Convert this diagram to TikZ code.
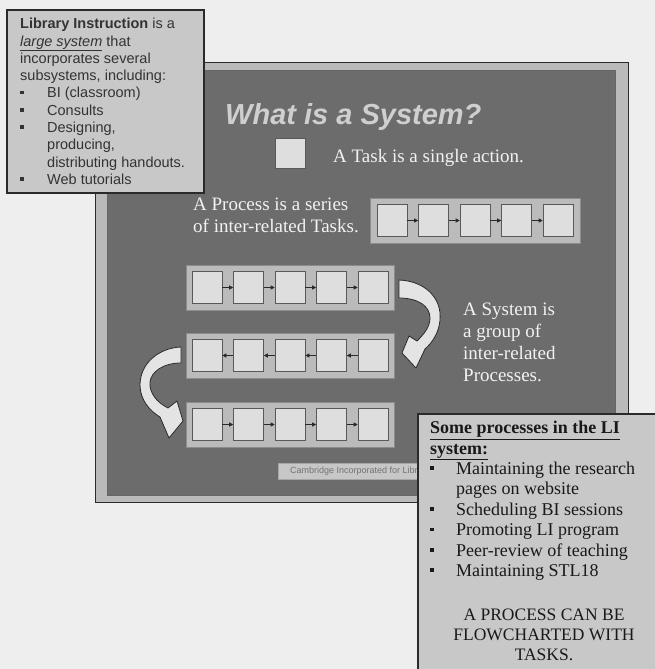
\documentclass[tikz,border=0pt]{standalone}
\usepackage{fontspec}
\setmainfont{Liberation Serif}
\setsansfont{Liberation Sans}
\usetikzlibrary{arrows.meta}
\definecolor{bgc}{HTML}{EEEEEE}
\definecolor{framec}{HTML}{BABABA}
\definecolor{slidec}{HTML}{6C6C6C}
\definecolor{darkc}{HTML}{2A2A2A}
\definecolor{chainc}{HTML}{BBBBBB}
\definecolor{taskc}{HTML}{DEDEDE}
\definecolor{titlec}{HTML}{CFCFCF}
\definecolor{slidetext}{HTML}{F2F2F2}
\definecolor{boxc}{HTML}{C8C8C8}
\definecolor{curvec}{HTML}{E4E4E4}
\newcommand\sqb{\raisebox{0.25em}{\rule{3.5pt}{3.5pt}}}
\begin{document}
\begin{tikzpicture}[x=1pt,y=-1pt,
  chainbox/.style={draw=black!45, fill=chainc, line width=0.8pt, minimum height=45pt, inner sep=0pt},
  taskbox/.style={draw=black!65, fill=taskc, line width=0.6pt, minimum width=30pt, minimum height=32pt, inner sep=0pt},
  flow/.style={draw=darkc, line width=0.6pt, -{Triangle[length=4pt,width=4pt]}},
  slidetxt/.style={text=slidetext, font=\rmfamily\fontsize{19}{21.5}\selectfont, align=left, inner sep=0pt},
  curvearrow/.style={fill=curvec, draw=darkc, line width=0.8pt, line join=round},
  infobox/.style={fill=boxc, draw=darkc, line width=1.1pt}]
\useasboundingbox (0,0) rectangle (655,669);
\fill[bgc] (0,0) rectangle (655,669);
% slide frame
\filldraw[fill=framec, draw=darkc, line width=0.8pt] (95,62) rectangle (628,502);
\filldraw[fill=slidec, draw=black!60, line width=0.6pt] (107,70) rectangle (615,495);
% title
\node[font=\sffamily\bfseries\itshape\fontsize{29}{34}\selectfont, text=titlec, anchor=base west, inner sep=0pt] (title) at (225,124) {What is a System?};
% single task
\node[taskbox, minimum height=30pt] (task) at (290,153) {};
\node[slidetxt, anchor=base west] (tasktxt) at (333,162) {A Task is a single action.};
% process text
\node[slidetxt, anchor=north west] (proctxt) at (193,198) {A Process is a series\\of inter-related Tasks.};
% top process chain
\node[chainbox, minimum width=210pt] (p0) at (475,220.5) {};
\foreach \i in {1,...,5} \node[taskbox] (a\i) at ({392+(\i-1)*41.5},220.5) {};
\foreach \i/\j in {1/2,2/3,3/4,4/5} \draw[flow] (a\i) -- (a\j);
% row 1
\node[chainbox, minimum width=208pt] (r1) at (290,287.5) {};
\foreach \i in {1,...,5} \node[taskbox] (b\i) at ({207+(\i-1)*41.5},287.5) {};
\foreach \i/\j in {1/2,2/3,3/4,4/5} \draw[flow] (b\i) -- (b\j);
% row 2
\node[chainbox, minimum width=208pt] (r2) at (290,355.5) {};
\foreach \i in {1,...,5} \node[taskbox] (c\i) at ({207+(\i-1)*41.5},355.5) {};
\foreach \i/\j in {1/2,2/3,3/4,4/5} \draw[flow] (c\j) -- (c\i);
% row 3
\node[chainbox, minimum width=208pt] (r3) at (290,424.5) {};
\foreach \i in {1,...,5} \node[taskbox] (d\i) at ({207+(\i-1)*41.5},424.5) {};
\foreach \i/\j in {1/2,2/3,3/4,4/5} \draw[flow] (d\i) -- (d\j);
% curved arrows
\draw[curvearrow] (399,280) .. controls (425,281) and (442,298) .. (440,320)
  .. controls (439,332) and (433,342) .. (425,349) -- (416,368) -- (402,353) -- (409,336) -- (417,341)
  .. controls (424,334) and (430,327) .. (430,318) .. controls (430,306) and (418,298) .. (399,298) -- cycle;
\draw[curvearrow] (181,347) .. controls (158,348) and (140,364) .. (140,385)
  .. controls (140,400) and (150,411) .. (160,417) -- (169,438) -- (183,421) -- (177,401) -- (168,408)
  .. controls (156,402) and (149,392) .. (150,382) .. controls (151,372) and (163,363) .. (181,363) -- cycle;
% system text
\node[slidetxt, anchor=north west, font=\rmfamily\fontsize{19}{22}\selectfont] (systxt) at (463,303) {A System is\\a group of\\inter-related\\Processes.};
% footer strip
\node[draw=black!35, fill=black!22, anchor=west, minimum width=160pt, minimum height=16pt, inner sep=0pt] (foot) at (278,471) {};
\node[anchor=west, font=\sffamily\fontsize{9}{10}\selectfont, text=black!55, inner sep=0pt] (foottxt) at (290,471) {Cambridge Incorporated for Library};
% left info box
\filldraw[infobox] (7,10) rectangle (204,193);
\node[anchor=north west, align=left, inner sep=0pt, text=black!80, font=\sffamily\fontsize{14.5}{17.3}\selectfont] (ltxt) at (20,18) {%
\textbf{Library Instruction} is a\\
\underline{\textit{large system}} that\\
incorporates several\\
subsystems, including:\\
\makebox[27pt][l]{\sqb}BI (classroom)\\
\makebox[27pt][l]{\sqb}Consults\\
\makebox[27pt][l]{\sqb}Designing,\\
\hspace*{27pt}producing,\\
\hspace*{27pt}distributing handouts.\\
\makebox[27pt][l]{\sqb}Web tutorials};
% right info box
\fill[boxc] (418,414) rectangle (656,670);
\draw[darkc, line width=1.1pt] (418,670) -- (418,414) -- (656,414);
\node[anchor=north west, align=left, inner sep=0pt, text=black!90, font=\rmfamily\fontsize{18}{20.4}\selectfont] (rtxt) at (430,421) {%
\textbf{\underline{Some processes in the LI}}\\
\textbf{\underline{system:}}\\
\makebox[26pt][l]{\sqb}Maintaining the research\\
\hspace*{26pt}pages on website\\
\makebox[26pt][l]{\sqb}Scheduling BI sessions\\
\makebox[26pt][l]{\sqb}Promoting LI program\\
\makebox[26pt][l]{\sqb}Peer-review of teaching\\
\makebox[26pt][l]{\sqb}Maintaining STL18};
\node[anchor=north, align=center, inner sep=0pt, text=black!90, font=\rmfamily\fontsize{17.5}{20}\selectfont] (rnote) at (544,609) {A PROCESS CAN BE\\FLOWCHARTED WITH\\TASKS.};
\end{tikzpicture}
\end{document}
